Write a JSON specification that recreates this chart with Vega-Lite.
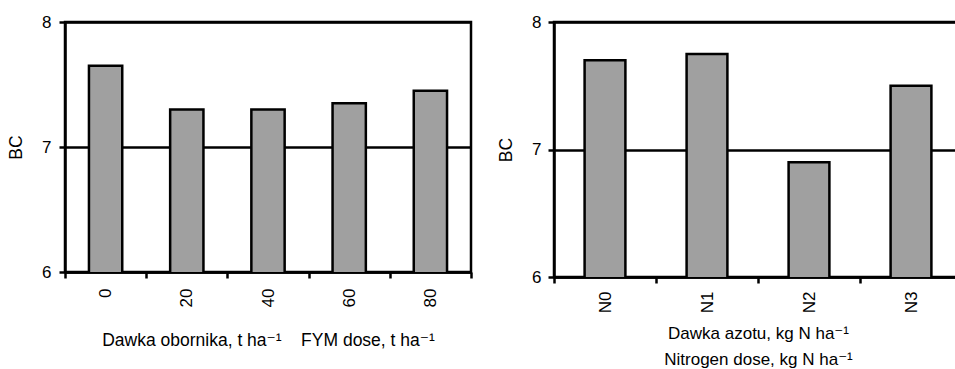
{
  "$schema": "https://vega.github.io/schema/vega-lite/v6.json",
  "background": "white",
  "padding": {"left": 6, "top": 11, "right": 0, "bottom": 0},
  "spacing": 22,
  "config": {
    "font": "Liberation Sans",
    "view": {"stroke": "black", "strokeWidth": 2.5},
    "axis": {
      "domainColor": "black", "domainWidth": 2.5,
      "tickColor": "black", "tickWidth": 2.5, "tickSize": 6,
      "labelFont": "Liberation Sans, DejaVu Sans", "labelFontSize": 17, "labelColor": "black",
      "titleFont": "Liberation Sans, DejaVu Sans", "titleFontSize": 17.5, "titleFontWeight": "normal", "titleColor": "black"
    }
  },
  "hconcat": [
    {
      "width": 406, "height": 250,
      "data": {"values": [
        {"dose": "0", "BC": 7.65},
        {"dose": "20", "BC": 7.30},
        {"dose": "40", "BC": 7.30},
        {"dose": "60", "BC": 7.35},
        {"dose": "80", "BC": 7.45}
      ]},
      "mark": {"type": "bar", "fill": "#a0a0a0", "stroke": "black", "strokeWidth": 2.5, "width": {"band": 0.41}, "clip": true},
      "encoding": {
        "x": {"field": "dose", "type": "ordinal", "sort": null,
              "scale": {"paddingInner": 0, "paddingOuter": 0},
              "axis": {"labelAngle": 270, "tickBand": "extent", "labelPadding": 10, "titlePadding": 25,
                       "title": "Dawka obornika, t ha⁻¹\u00a0\u00a0\u00a0\u00a0FYM dose, t ha⁻¹"}},
        "y": {"field": "BC", "type": "quantitative",
              "scale": {"domain": [6, 8], "nice": false, "zero": false},
              "axis": {"values": [6, 7, 8], "labelExpr": "toString(datum.value)", "grid": true, "gridColor": "black", "gridWidth": 2.5,
                       "labelPadding": 8, "titlePadding": 16, "title": "BC"}}
      }
    },
    {
      "width": 408, "height": 255,
      "data": {"values": [
        {"dose": "N0", "BC": 7.70},
        {"dose": "N1", "BC": 7.75},
        {"dose": "N2", "BC": 6.90},
        {"dose": "N3", "BC": 7.50}
      ]},
      "mark": {"type": "bar", "fill": "#a0a0a0", "stroke": "black", "strokeWidth": 2.5, "width": {"band": 0.40}, "clip": true},
      "encoding": {
        "x": {"field": "dose", "type": "ordinal", "sort": null,
              "scale": {"paddingInner": 0, "paddingOuter": 0},
              "axis": {"labelAngle": 270, "tickBand": "extent", "labelPadding": 8, "titlePadding": 13,
                       "titleFontSize": 17, "titleLineHeight": 26,
                       "title": ["Dawka azotu, kg N ha⁻¹", "Nitrogen dose, kg N ha⁻¹"]}},
        "y": {"field": "BC", "type": "quantitative",
              "scale": {"domain": [6, 8], "nice": false, "zero": false},
              "axis": {"values": [6, 7, 8], "labelExpr": "toString(datum.value)", "grid": true, "gridColor": "black", "gridWidth": 2.5,
                       "labelPadding": 7, "titlePadding": 16, "title": "BC"}}
      }
    }
  ]
}
